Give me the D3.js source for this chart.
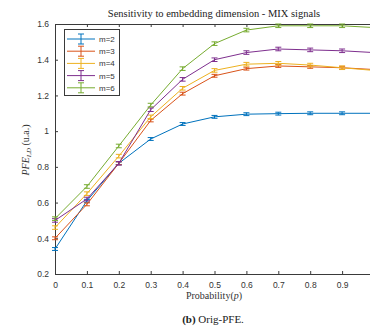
<!DOCTYPE html>
<html><head><meta charset="utf-8">
<script src="https://cdn.jsdelivr.net/npm/d3@7"></script>
<style>body{margin:0;background:#fff;} svg{display:block;}</style>
</head><body>
<svg id="c" width="370" height="329"></svg>
<script>
const probs = [0,0.1,0.2,0.3,0.4,0.5,0.6,0.7,0.8,0.9,1.0];
const seriesNames = ["m=2","m=3","m=4","m=5","m=6"];
const m2 = [0.34,0.61,0.82,0.956,1.04,1.08,1.095,1.098,1.10,1.10,1.10];
const m3 = [0.40,0.59,0.82,1.06,1.21,1.31,1.35,1.365,1.36,1.355,1.345];
const m4 = [0.46,0.65,0.86,1.08,1.24,1.34,1.375,1.38,1.37,1.355,1.34];
const m5 = [0.50,0.62,0.82,1.12,1.29,1.40,1.44,1.46,1.455,1.45,1.44];
const m6 = [0.51,0.69,0.917,1.146,1.35,1.49,1.566,1.59,1.59,1.59,1.58];
const errs = [0.008,0.008,0.01,0.01,0.01];
const colors = ["#0072BD","#D95319","#EDB120","#7E2F8E","#77AC30"];
const xTicks = [0,0.1,0.2,0.3,0.4,0.5,0.6,0.7,0.8,0.9,1];
const xTickLabels = ["0","0.1","0.2","0.3","0.4","0.5","0.6","0.7","0.8","0.9",""];
const yTicks = [0.2,0.4,0.6,0.8,1,1.2,1.4,1.6];
const allSeries = [m2,m3,m4,m5,m6];

const svg = d3.select("#c");
const L=55, R=374, T=24, B=274;
const x = d3.scaleLinear().domain([0,1]).range([L,R]);
const y = d3.scaleLinear().domain([0.2,1.6]).range([B,T]);
const axisCol = "#3a3a3a";

const gx = svg.append("g").attr("transform",`translate(0,${B})`)
  .call(d3.axisBottom(x).tickValues(xTicks).tickSizeInner(-3).tickSizeOuter(0).tickPadding(6)
    .tickFormat((d,i)=>xTickLabels[i]));
const gxt = svg.append("g").attr("transform",`translate(0,${T})`)
  .call(d3.axisTop(x).tickValues(xTicks).tickSizeInner(-3).tickSizeOuter(0).tickFormat(""));
const gy = svg.append("g").attr("transform",`translate(${L},0)`)
  .call(d3.axisLeft(y).tickValues(yTicks).tickSizeInner(-3).tickSizeOuter(0).tickPadding(6).tickFormat(d3.format("")));
[gx,gxt,gy].forEach(g=>{
  g.selectAll("path").attr("stroke",axisCol).attr("stroke-width",1);
  g.selectAll("line").attr("stroke",axisCol);
  g.selectAll("text").attr("fill","#333").style("font-family","Liberation Sans, Arial, sans-serif").style("font-size","8.5px");
});
gx.selectAll("text").attr("dy","0.9em");

allSeries.forEach((vals,i)=>{
  const col = colors[i];
  const data = probs.map((p,j)=>({p, v:vals[j]}));
  svg.append("path").datum(data)
    .attr("fill","none").attr("stroke",col).attr("stroke-width",1)
    .attr("d", d3.line().x(d=>x(d.p)).y(d=>y(d.v)));
  const g = svg.append("g").attr("stroke",col).attr("stroke-width",1);
  data.forEach(d=>{
    const e = errs[i];
    const y1 = y(d.v+e), y2 = y(d.v-e), cx = x(d.p);
    g.append("line").attr("x1",cx).attr("x2",cx).attr("y1",y1).attr("y2",y2);
    g.append("line").attr("x1",cx-3).attr("x2",cx+3).attr("y1",y1).attr("y2",y1);
    g.append("line").attr("x1",cx-3).attr("x2",cx+3).attr("y1",y2).attr("y2",y2);
  });
});

const lg = svg.append("g");
lg.append("rect").attr("x",64.5).attr("y",29.5).attr("width",55).attr("height",66)
  .attr("fill","#fff").attr("stroke",axisCol).attr("stroke-width",1);
seriesNames.forEach((n,i)=>{
  const ly = 39 + i*12.2;
  lg.append("line").attr("x1",67).attr("x2",95).attr("y1",ly).attr("y2",ly).attr("stroke",colors[i]);
  lg.append("line").attr("x1",81).attr("x2",81).attr("y1",ly-5).attr("y2",ly+5).attr("stroke",colors[i]);
  lg.append("line").attr("x1",78).attr("x2",84).attr("y1",ly-5).attr("y2",ly-5).attr("stroke",colors[i]);
  lg.append("line").attr("x1",78).attr("x2",84).attr("y1",ly+5).attr("y2",ly+5).attr("stroke",colors[i]);
  lg.append("text").attr("x",99).attr("y",ly+3).text(n)
    .style("font-family","Liberation Sans, Arial, sans-serif").style("font-size","8px").attr("fill","#333");
});

svg.append("text").attr("x",214).attr("y",17).attr("text-anchor","middle")
  .style("font-family","Liberation Serif, serif").style("font-size","10.5px").attr("fill","#222")
  .text("Sensitivity to embedding dimension - MIX signals");

svg.append("text").attr("x",214).attr("y",299).attr("text-anchor","middle")
  .style("font-family","Liberation Serif, serif").style("font-size","10px").attr("fill","#333")
  .html('Probability(<tspan font-style="italic">p</tspan>)');

const yl = svg.append("text").attr("transform","translate(29,150) rotate(-90)").attr("text-anchor","middle")
  .style("font-family","Liberation Serif, serif").style("font-size","10px").attr("fill","#333");
yl.append("tspan").attr("font-style","italic").text("PFE");
yl.append("tspan").attr("font-style","italic").attr("font-size","7px").attr("dy","2").text("I,D");
yl.append("tspan").attr("dy","-2").text(" (u.a.)");

const cap = svg.append("text").attr("x",213).attr("y",323).attr("text-anchor","middle")
  .style("font-family","Liberation Serif, serif").style("font-size","11px").attr("fill","#222");
cap.append("tspan").attr("font-weight","bold").text("(b)");
cap.append("tspan").text(" Orig-PFE.");
</script>
</body></html>
